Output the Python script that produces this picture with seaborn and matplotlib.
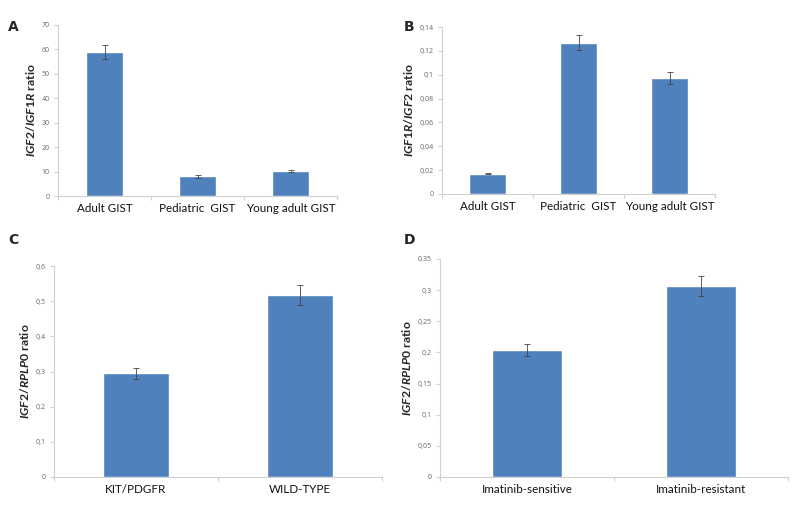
import numpy as np
import pandas as pd
import matplotlib
matplotlib.use("Agg")
import matplotlib.pyplot as plt
from matplotlib.ticker import FuncFormatter, FixedLocator
import seaborn as sns

# panel A
cats_a = ["Adult GIST", "Pediatric  GIST", "Young adult GIST"]
vals_a = [59.0, 8.0, 10.3]
err_a = [3.0, 0.5, 0.5]
# panel B
cats_b = ["Adult GIST", "Pediatric  GIST", "Young adult GIST"]
vals_b = [0.017, 0.127, 0.097]
err_b = [0.0006, 0.006, 0.005]
# panel C
cats_c = ["KIT/PDGFR", "WILD-TYPE"]
vals_c = [0.295, 0.517]
err_c = [0.015, 0.028]
# panel D
cats_d = ["Imatinib-sensitive", "Imatinib-resistant"]
vals_d = [0.204, 0.307]
err_d = [0.010, 0.016]

yticks_a = [0, 10, 20, 30, 40, 50, 60, 70]
yticks_b = [0, 0.02, 0.04, 0.06, 0.08, 0.1, 0.12, 0.14]
yticks_c = [0, 0.1, 0.2, 0.3, 0.4, 0.5, 0.6]
yticks_d = [0, 0.05, 0.1, 0.15, 0.2, 0.25, 0.3, 0.35]

BLUE = "#4F81BD"

sns.set_theme(style="white")
plt.rcParams["font.family"] = ["Lato", "DejaVu Sans"]
plt.rcParams["mathtext.fontset"] = "custom"
plt.rcParams["mathtext.it"] = "Lato:italic:bold"
plt.rcParams["mathtext.rm"] = "Lato:bold"


def comma(v, pos):
    return ("%g" % v).replace(".", ",")


def panel(fig, rect, cats, vals, errs, yticks, ylabel, letter, letter_xy):
    ax = fig.add_axes(rect)
    df = pd.DataFrame({"cat": cats, "val": vals})
    sns.barplot(data=df, x="cat", y="val", color=BLUE, saturation=1,
                width=0.4, errorbar=None, ax=ax)
    ax.errorbar(np.arange(len(cats)), vals, yerr=errs, fmt="none",
                ecolor="#444444", elinewidth=0.6, capsize=2, capthick=0.6)
    ax.set_xlim(-0.5, len(cats) - 0.5)
    ax.set_ylim(yticks[0], yticks[-1])
    ax.set_yticks(yticks)
    ax.yaxis.set_major_formatter(FuncFormatter(comma))
    for t in ax.get_yticklabels():
        t.set_family(["Open Sans", "DejaVu Sans"])
    ax.set_xlabel("")
    ax.set_ylabel(ylabel, fontsize=8.8, fontweight="bold", labelpad=3)
    for s in ["top", "right"]:
        ax.spines[s].set_visible(False)
    for s in ["left", "bottom"]:
        ax.spines[s].set_color("#D0D0D0")
        ax.spines[s].set_linewidth(0.8)
    ax.tick_params(axis="y", labelsize=5, labelcolor="#666666", length=3,
                   color="#D0D0D0", width=0.8, left=True, pad=3)
    ax.tick_params(axis="x", which="major", length=0, labelsize=8.4, pad=5,
                   labelcolor="#111111")
    ax.xaxis.set_minor_locator(FixedLocator(np.arange(len(cats) + 1) - 0.5))
    ax.tick_params(axis="x", which="minor", length=3, color="#D0D0D0",
                   width=0.8, bottom=True)
    fig.text(letter_xy[0], letter_xy[1], letter, fontsize=10,
             fontweight="bold", ha="left", va="center",
             family=["DejaVu Sans"])
    return ax


fig = plt.figure(figsize=(8, 5.07), dpi=100)

panel(fig, [0.0725, 0.6134, 0.3488, 0.3373], cats_a, vals_a, err_a, yticks_a,
      r"$IGF2/IGF1R$ ratio", "A", (0.010, 0.947))
panel(fig, [0.5525, 0.6174, 0.3415, 0.3293], cats_b, vals_b, err_b, yticks_b,
      r"$IGF1R/IGF2$ ratio", "B", (0.505, 0.947))
panel(fig, [0.0675, 0.0592, 0.41, 0.4161], cats_c, vals_c, err_c, yticks_c,
      r"$IGF2/RPLP0$ ratio", "C", (0.010, 0.527))
panel(fig, [0.55, 0.0592, 0.435, 0.43], cats_d, vals_d, err_d, yticks_d,
      r"$IGF2/RPLP0$ ratio", "D", (0.505, 0.527))

fig.savefig("out.png", dpi=100)
